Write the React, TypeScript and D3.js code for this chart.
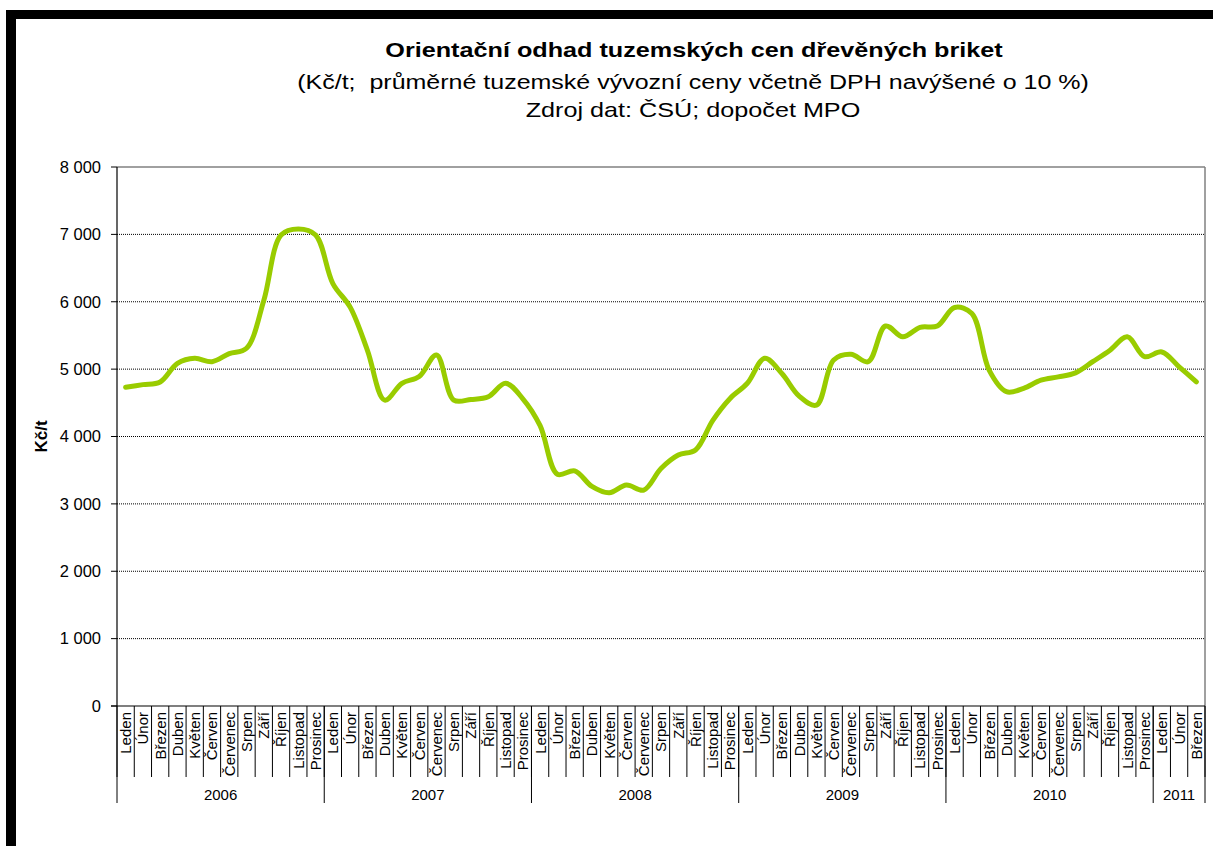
import React from 'react';
import * as d3 from 'd3';

// month names (Czech) and years on the two-level category axis
const months = ['Leden', 'Únor', 'Březen', 'Duben', 'Květen', 'Červen', 'Červenec', 'Srpen', 'Září', 'Říjen', 'Listopad', 'Prosinec'];
const years = ['2006', '2007', '2008', '2009', '2010', '2011'];

// Kč/t
const prices2006 = [4730, 4770, 4810, 5085, 5160, 5110, 5230, 5310, 6020, 6990, 7080, 6990];
const prices2007 = [6270, 5920, 5280, 4540, 4790, 4890, 5210, 4540, 4550, 4590, 4790, 4560];
const prices2008 = [4160, 3440, 3490, 3260, 3165, 3280, 3205, 3525, 3725, 3800, 4240, 4565];
const prices2009 = [4790, 5160, 4935, 4600, 4465, 5135, 5220, 5110, 5640, 5480, 5620, 5640];
const prices2010 = [5915, 5825, 4985, 4665, 4715, 4835, 4885, 4945, 5110, 5280, 5480, 5185];
const prices2011 = [5255, 5035, 4810];

const yTicks = [0, 1000, 2000, 3000, 4000, 5000, 6000, 7000, 8000];

const W = 1213, H = 846;
const left = 117, right = 1205, top = 167, bottom = 706;
const font = 'Arial, "Liberation Sans", sans-serif';

export default function App() {
  const byYear = [prices2006, prices2007, prices2008, prices2009, prices2010, prices2011];
  const data = [];
  byYear.forEach((arr, yi) => {
    arr.forEach((v, mi) => {
      data.push({ year: years[yi], month: months[mi], value: v });
    });
  });

  const x = d3.scaleBand().domain(d3.range(data.length)).range([left, right]).paddingInner(0).paddingOuter(0);
  const y = d3.scaleLinear().domain([0, 8000]).range([bottom, top]);
  const bw = x.bandwidth();

  const loc = d3.formatLocale({ decimal: ',', thousands: ' ', grouping: [3], currency: ['', ''] });
  const fmt = loc.format(',.0f');

  const line = d3.line()
    .x((d, i) => x(i) + bw / 2)
    .y(d => y(d.value))
    .curve(d3.curveCatmullRom.alpha(0.5));

  // year group boundaries
  let start = 0;
  const groups = byYear.map((arr, yi) => {
    const g = { year: years[yi], from: start, to: start + arr.length };
    start += arr.length;
    return g;
  });

  return (
    <svg width={W} height={H} style={{ position: 'absolute', left: 0, top: 0, background: '#fff' }} fontFamily={font}>
      <rect x={0} y={0} width={W} height={H} fill="#fff" />
      {/* frame */}
      <rect x={6} y={10} width={W - 6} height={9} fill="#000" />
      <rect x={6} y={10} width={10} height={H - 10} fill="#000" />

      {/* titles, stretched a bit horizontally like the original */}
      <text transform="translate(694,57) scale(1.2,1)" textAnchor="middle" fontSize={21} fontWeight="bold">Orientační odhad tuzemských cen dřevěných briket</text>
      <text transform="translate(693,89) scale(1.25,1)" textAnchor="middle" fontSize={20} style={{ whiteSpace: 'pre' }}>(Kč/t;  průměrné tuzemské vývozní ceny včetně DPH navýšené o 10 %)</text>
      <text transform="translate(693,117) scale(1.26,1)" textAnchor="middle" fontSize={20}>Zdroj dat: ČSÚ; dopočet MPO</text>

      {/* grid */}
      {yTicks.filter(t => t > 0 && t < 8000).map(t => (
        <line key={t} x1={left} x2={right} y1={y(t)} y2={y(t)} stroke="#000" strokeWidth={1} strokeDasharray="1 1" />
      ))}
      <line x1={left} x2={right} y1={y(8000)} y2={y(8000)} stroke="#808080" strokeWidth={1.5} />
      <line x1={right} x2={right} y1={top} y2={bottom} stroke="#808080" strokeWidth={1.5} />

      {/* y axis */}
      <line x1={left} x2={left} y1={top} y2={bottom} stroke="#000" strokeWidth={1.2} />
      {yTicks.map(t => (
        <g key={t}>
          <line x1={left - 6} x2={left} y1={y(t)} y2={y(t)} stroke="#000" />
          <text x={left - 16} y={y(t)} dy="0.35em" textAnchor="end" fontSize={16.5}>{fmt(t)}</text>
        </g>
      ))}
      <text transform={`translate(47,${(top + bottom) / 2}) rotate(-90)`} textAnchor="middle" fontSize={17} fontWeight="bold">Kč/t</text>

      {/* x axis */}
      <line x1={left - 6} x2={right} y1={bottom} y2={bottom} stroke="#000" strokeWidth={1.2} />
      {data.map((d, i) => (
        <g key={i}>
          <line x1={x(i)} x2={x(i)} y1={bottom} y2={bottom + 71} stroke="#000" strokeWidth={1} />
          <text transform={`translate(${x(i) + bw / 2},${bottom + 6}) rotate(-90)`} textAnchor="end" dy="0.36em" fontSize={15}>{d.month}</text>
        </g>
      ))}
      <line x1={right} x2={right} y1={bottom} y2={bottom + 71} stroke="#000" />
      {groups.map(g => (
        <g key={g.year}>
          <line x1={x(g.from)} x2={x(g.from)} y1={bottom} y2={bottom + 97} stroke="#000" />
          <text x={(x(g.from) + (g.to < data.length ? x(g.to) : right)) / 2} y={bottom + 89} dy="0.35em" textAnchor="middle" fontSize={15}>{g.year}</text>
        </g>
      ))}
      <line x1={right} x2={right} y1={bottom} y2={bottom + 97} stroke="#000" />

      {/* series */}
      <path d={line(data)} fill="none" stroke="#99CC00" strokeWidth={5} strokeLinejoin="round" strokeLinecap="round" />
    </svg>
  );
}
